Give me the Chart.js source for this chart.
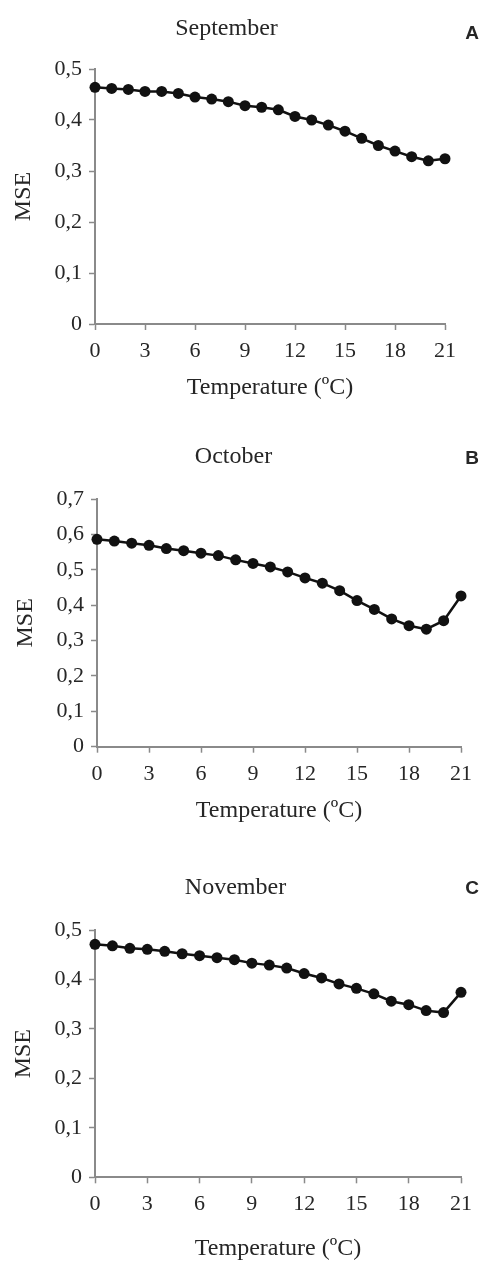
<!DOCTYPE html>
<html lang="en">
<head>
<meta charset="UTF-8">
<title>MSE vs Temperature</title>
<script src="https://cdn.jsdelivr.net/npm/chart.js@4/dist/chart.umd.js"></script>
<style>
  html, body { margin: 0; padding: 0; background: #fff; overflow: hidden; }
  body { width: 480px; height: 1262px; position: relative; }
  canvas { position: absolute; left: 0; }
</style>
</head>
<body>
<canvas id="chartA" width="480" height="420" style="top:0px"></canvas>
<canvas id="chartB" width="480" height="420" style="top:428px"></canvas>
<canvas id="chartC" width="480" height="420" style="top:860px"></canvas>
<script>
// temperature steps (ºC)
const temperatures = [0,1,2,3,4,5,6,7,8,9,10,11,12,13,14,15,16,17,18,19,20,21];
// MSE
const mseSeptember = [0.464,0.462,0.460,0.456,0.456,0.452,0.445,0.441,0.436,0.428,0.425,0.420,0.407,0.400,0.390,0.378,0.364,0.350,0.339,0.328,0.320,0.324];
const mseOctober   = [0.586,0.581,0.575,0.569,0.560,0.554,0.547,0.540,0.528,0.518,0.508,0.494,0.477,0.462,0.441,0.413,0.388,0.361,0.342,0.332,0.356,0.426];
const mseNovember  = [0.471,0.468,0.463,0.461,0.457,0.452,0.448,0.444,0.440,0.433,0.429,0.423,0.412,0.403,0.391,0.382,0.371,0.356,0.349,0.337,0.333,0.374];
const xStep = 3, xMax = 21;
const yStep = 0.1;
const yMaxes = [0.5, 0.7, 0.5];
const months = ['September', 'October', 'November'];
const letters = ['A', 'B', 'C'];

const serif = '"Liberation Serif", "Times New Roman", serif';
const axisGray = '#8a8a8a';
const ink = '#262626';

const panelLetter = {
  id: 'panelLetter',
  afterDraw(chart, args, opts) {
    const ctx = chart.ctx;
    ctx.save();
    ctx.font = 'bold 19px "Liberation Sans", Arial, sans-serif';
    ctx.fillStyle = ink;
    ctx.textAlign = 'center';
    ctx.textBaseline = 'middle';
    ctx.fillText(opts.text, chart.width - 8, opts.y);
    ctx.restore();
  }
};

// layout tweaks per panel, so the plot boxes sit like the figure
const layouts = [
  { padL: 8,  padR: 35, padT: 14, padB: 17.6, yWidth: 87, xHeight: 78.4, titleGap: 26.2, yTitlePad: 4,  letterY: 34 },
  { padL: 3,  padR: 16, padT: 14, padB: 22.9, yWidth: 94, xHeight: 78.4, titleGap: 28.2, yTitlePad: 11, letterY: 31 },
  { padL: 10, padR: 19, padT: 13.7, padB: 16.6, yWidth: 85, xHeight: 86.1, titleGap: 27.5, yTitlePad: 2,  letterY: 29 }
];
const series = [mseSeptember, mseOctober, mseNovember];

function makeChart(id, i) {
  const lay = layouts[i];
  const pts = temperatures.map((t, k) => ({ x: t, y: series[i][k] }));
  return new Chart(document.getElementById(id), {
    type: 'line',
    data: {
      datasets: [{
        data: pts,
        borderColor: '#111',
        backgroundColor: '#111',
        borderWidth: 2.5,
        pointRadius: 5.5,
        pointHoverRadius: 5.5,
        pointBackgroundColor: '#111',
        pointBorderWidth: 0,
        tension: 0,
        clip: false
      }]
    },
    options: {
      responsive: false,
      animation: false,
      devicePixelRatio: 1,
      layout: { padding: { left: lay.padL, right: lay.padR, top: lay.padT, bottom: lay.padB } },
      plugins: {
        legend: { display: false },
        tooltip: { enabled: false },
        title: {
          display: true,
          text: months[i],
          color: ink,
          font: { family: serif, size: 24, weight: 'normal', lineHeight: 1.2 },
          padding: { top: 0, bottom: lay.titleGap }
        },
        panelLetter: { text: letters[i], y: lay.letterY }
      },
      scales: {
        x: {
          type: 'linear',
          min: 0,
          max: xMax,
          border: { display: true, color: axisGray, width: 2 },
          grid: { drawOnChartArea: false, drawTicks: true, tickLength: 6, color: axisGray, tickWidth: 1.5 },
          ticks: { stepSize: xStep, color: ink, padding: 8, maxRotation: 0, font: { family: serif, size: 22 } },
          title: {
            display: true,
            text: 'Temperature (ºC)',
            color: ink,
            font: { family: serif, size: 24, lineHeight: 1.2 },
            padding: { top: 0, bottom: 0 }
          },
          afterFit(scale) { scale.height = lay.xHeight; }
        },
        y: {
          min: 0,
          max: yMaxes[i],
          border: { display: true, color: axisGray, width: 2 },
          grid: { drawOnChartArea: false, drawTicks: true, tickLength: 6, color: axisGray, tickWidth: 1.5 },
          ticks: {
            stepSize: yStep,
            color: ink,
            padding: 7,
            font: { family: serif, size: 22 },
            callback: v => v === 0 ? '0' : v.toFixed(1).replace('.', ',')
          },
          title: {
            display: true,
            text: 'MSE',
            color: ink,
            font: { family: serif, size: 24, lineHeight: 1 },
            padding: { top: lay.yTitlePad, bottom: 0 }
          },
          afterFit(scale) { scale.width = lay.yWidth; }
        }
      }
    },
    plugins: [panelLetter]
  });
}

makeChart('chartA', 0);
makeChart('chartB', 1);
makeChart('chartC', 2);
</script>
</body>
</html>
